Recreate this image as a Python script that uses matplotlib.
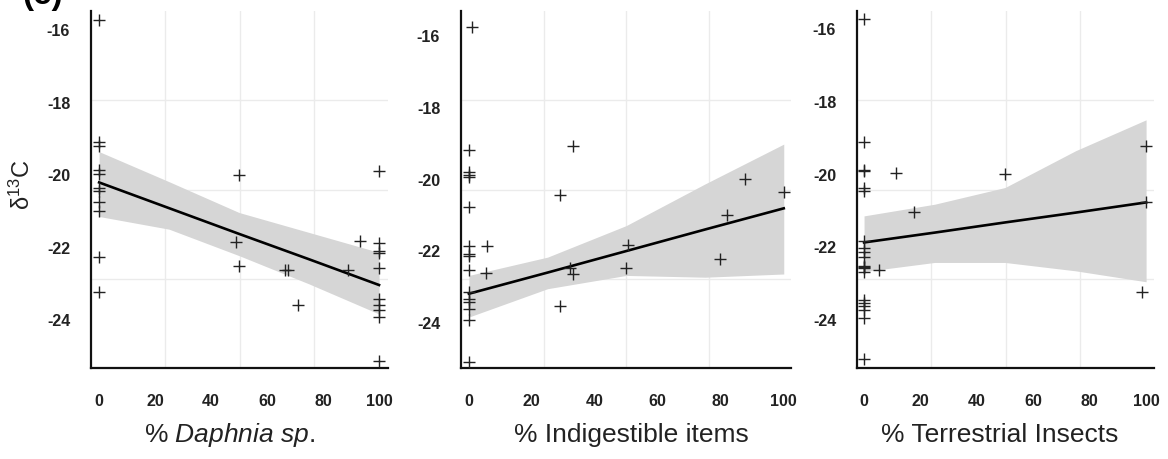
import matplotlib
matplotlib.use("Agg")
import matplotlib.pyplot as plt
import numpy as np
from matplotlib.ticker import FixedLocator

plt.rcParams['font.family'] = ['Liberation Sans', 'DejaVu Sans']
plt.rcParams['mathtext.fontset'] = 'custom'
plt.rcParams['mathtext.rm'] = 'Liberation Sans'
plt.rcParams['mathtext.it'] = 'Liberation Sans:italic'
plt.rcParams['mathtext.default'] = 'regular'

# panel 1: % Daphnia sp.
daph_x = [0] * 11 + [48.9, 50.1, 50.1, 66.5, 67.3, 71.2, 89.0, 93.2] + [100] * 10
daph_y = [-15.74, -19.11, -19.22, -19.90, -20.00, -20.39, -20.47, -20.76, -21.01, -22.30, -23.26,
          -21.87, -20.02, -22.53, -22.64, -22.64, -23.61, -22.64, -21.85,
          -19.91, -21.90, -22.12, -22.18, -22.58, -23.45, -23.60, -23.75, -23.95, -25.17]

# panel 2: % Indigestible items
indig_x = [1] + [0] * 15 + [5.9, 5.3, 28.9, 28.9, 33.1, 32.2, 33.0, 50.6, 49.8, 79.9, 82.1, 87.8, 100]
indig_y = [-15.77,
           -19.20, -19.82, -19.89, -19.96, -20.80, -21.87, -22.10, -22.15, -22.55,
           -23.17, -23.35, -23.45, -23.63, -23.93, -25.10,
           -21.87, -22.63, -20.46, -23.56, -19.10, -22.50, -22.65, -21.84, -22.50,
           -22.24, -21.01, -20.01, -20.38]

# panel 3: % Terrestrial Insects
terr_x = [0] * 20 + [5.3, 11.3, 17.7, 50.1, 98.7, 99.9, 99.9]
terr_y = [-15.75, -19.12, -19.90, -19.92, -20.40, -20.47, -21.85, -22.05, -22.16, -22.28,
          -22.55, -22.57, -22.60, -22.70, -23.47, -23.56, -23.65, -23.75, -23.97, -25.10,
          -22.64, -19.98, -21.04, -20.01, -23.24, -19.25, -20.77]

# fitted line and confidence band
fit_x = [0, 25, 50, 75, 100]
daph_fit = [-20.23, -20.94, -21.65, -22.35, -23.06]
daph_hi = [-19.38, -20.21, -21.06, -21.61, -22.16]
daph_lo = [-21.17, -21.52, -22.25, -23.03, -23.86]
indig_fit = [-23.21, -22.62, -22.02, -21.42, -20.83]
indig_hi = [-22.70, -22.19, -21.31, -20.15, -19.04]
indig_lo = [-23.86, -23.07, -22.70, -22.75, -22.66]
terr_fit = [-21.89, -21.62, -21.34, -21.07, -20.79]
terr_hi = [-21.16, -20.84, -20.38, -19.37, -18.52]
terr_lo = [-22.69, -22.44, -22.44, -22.67, -22.97]

xticks = [0, 20, 40, 60, 80, 100]
yticks = [-16, -18, -20, -22, -24]

panels = [
    (daph_x, daph_y, daph_fit, daph_hi, daph_lo, r'% $\mathit{Daphnia\ sp.}$',
     [91, 297], (-2.9, 103.2), (-25.35, -15.50), 0.465),
    (indig_x, indig_y, indig_fit, indig_hi, indig_lo, '% Indigestible items',
     [461, 330], (-2.5, 102.3), (-25.28, -15.33), 0.517),
    (terr_x, terr_y, terr_fit, terr_hi, terr_lo, '% Terrestrial Insects',
     [857, 297], (-2.5, 102.8), (-25.34, -15.53), 0.481),
]

W, H = 1168, 460
fig = plt.figure(figsize=(W / 100, H / 100), dpi=100)

tickfont = dict(family=['Liberation Sans Narrow', 'Liberation Sans'], size=11.5, weight='bold')

for i, (x, y, fy, hi, lo, label, (left, width), xl, yl, lx) in enumerate(panels):
    ax = fig.add_axes([left / W, 1 - 369 / H, width / W, 357 / H])
    ax.fill_between(fit_x, lo, hi, color='#d6d6d6', lw=0, zorder=1)
    ax.plot(fit_x, fy, color='black', lw=1.9, zorder=3)
    ax.plot(x, y, ls='none', marker='+', ms=9, mew=1.0, color='#222222', zorder=4)

    ax.set_xlim(xl)
    ax.set_ylim(yl)
    ax.set_xticks(xticks)
    ax.set_yticks(yticks)
    ax.set_xticklabels([str(t) for t in xticks], fontdict=tickfont, color='#222222')
    ax.set_yticklabels([str(t) for t in yticks], fontdict=tickfont, color='#222222')
    ax.xaxis.set_minor_locator(FixedLocator(np.linspace(xl[0], xl[1], 5)[1:-1]))
    ax.yaxis.set_minor_locator(FixedLocator(np.linspace(yl[0], yl[1], 5)[1:-1]))
    ax.grid(which='minor', color='#ebebeb', lw=1.0)
    ax.grid(which='major', visible=False)
    ax.set_axisbelow(True)
    ax.tick_params(which='both', length=0)
    ax.tick_params(axis='y', pad=15)
    ax.tick_params(axis='x', pad=18)

    for s in ['top', 'right']:
        ax.spines[s].set_visible(False)
    for s in ['left', 'bottom']:
        ax.spines[s].set_linewidth(1.6)
        ax.spines[s].set_color('#111111')

    ax.set_xlabel(label, fontsize=19, color='#222222')
    ax.xaxis.set_label_coords(lx, -0.185)
    ax.xaxis.label.set_va('center')

    if i == 0:
        ax.set_ylabel(r'δ$^{13}$C', fontsize=17, color='#222222')
        ax.yaxis.set_label_coords(-0.232, 0.515)
        ax.yaxis.label.set_va('center')

# panel letter, cut off at the top edge as in the source figure
fig.text(22 / W, 1 - 11 / H, '(c)', fontsize=24, fontweight='bold', va='bottom', ha='left')

fig.savefig('out.png', dpi=100)
